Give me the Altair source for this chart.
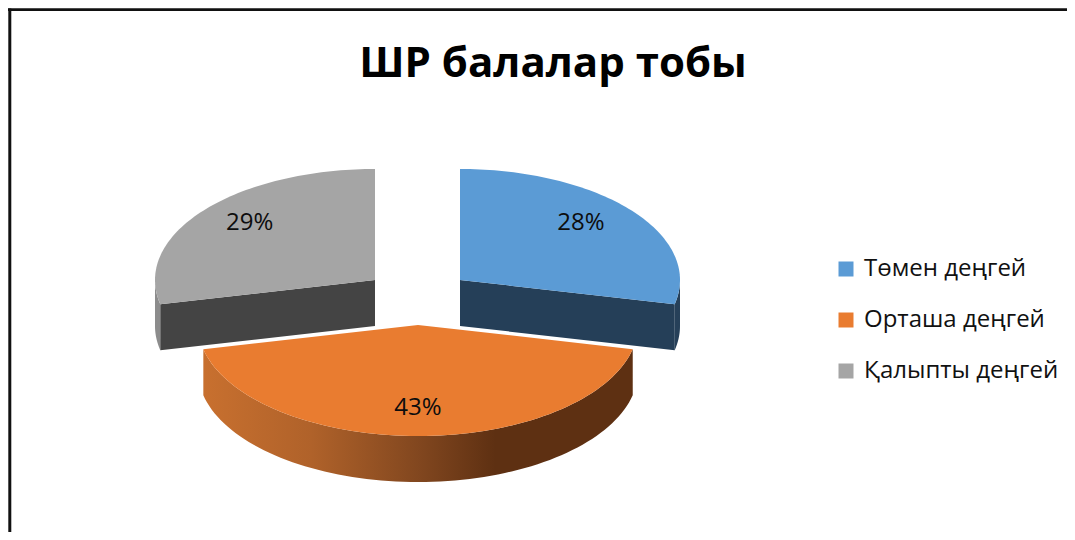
import math
import altair as alt

# ---- values
categories = ["Төмен деңгей", "Орташа деңгей", "Қалыпты деңгей"]
shares = [28.49, 43.0, 28.51]
top_colours = ["#5B9BD5", "#E97C30", "#A5A5A5"]
title_text = "ШР балалар тобы"

# ---- layout of the exploded, tilted pie (page pixels)
RX, RY, DEPTH = 220, 111, 46
centres = [(460, 280), (418, 325), (375, 280)]
label_factors = [(0.705, 0.82), (0.0, 0.745), (0.73, 0.82)]
W, H = 1059, 524


def pt(c, deg, dy=0):
    t = math.radians(deg)
    return [c[0] + RX * math.sin(t), c[1] - RY * math.cos(t) + dy]


def arc(c, a0, a1, dy=0, n=80):
    return [pt(c, a0 + (a1 - a0) * i / n, dy) for i in range(n + 1)]


def feature(ring, **props):
    return {"type": "Feature", "properties": props,
            "geometry": {"type": "Polygon", "coordinates": [ring + [ring[0]]]}}


spans = []
acc = 0.0
for s in shares:
    spans.append((acc * 3.6, (acc + s) * 3.6))
    acc += s

tops = []
labels = []
for cat, c, (a0, a1), s, (fx, fy) in zip(categories, centres, spans, shares, label_factors):
    tops.append(feature([list(c)] + arc(c, a0, a1), category=cat))
    mid = math.radians((a0 + a1) / 2)
    labels.append({"lon": c[0] + fx * RX * math.sin(mid),
                   "lat": c[1] - fy * RY * math.cos(mid),
                   "label": f"{round(s)}%"})

blue_c, orange_c, grey_c = centres
blue_span, orange_span, grey_span = spans


def inner_face(c, deg):
    p = pt(c, deg)
    return feature([list(c), p, [p[0], p[1] + DEPTH], [c[0], c[1] + DEPTH]])


def outer_wall(c, a0, a1):
    return feature(arc(c, a0, a1) + arc(c, a1, a0, DEPTH))


proj = dict(type="identity", scale=1, translate=[-8, -8])


def shape(features, fill):
    return alt.Chart(alt.Data(values=features)).mark_geoshape(
        fill=fill, strokeWidth=0).project(**proj)


walls = [
    shape([outer_wall(grey_c, grey_span[0], 270)], "#8C8C8C"),
    shape([inner_face(grey_c, grey_span[0])], "#444444"),
    shape([outer_wall(blue_c, 90, blue_span[1])], "#264059"),
    shape([inner_face(blue_c, blue_span[1])], "#253F58"),
    shape([outer_wall(orange_c, orange_span[0], orange_span[1])], {
        "gradient": "linear", "x1": 0, "y1": 0, "x2": 1, "y2": 0,
        "stops": [
            {"offset": 0.0, "color": "#C8702F"},
            {"offset": 0.25, "color": "#B0622A"},
            {"offset": 0.5, "color": "#82471F"},
            {"offset": 0.68, "color": "#5E3012"},
            {"offset": 1.0, "color": "#5E3012"},
        ]}),
]

top_layer = alt.Chart(alt.Data(values=tops)).mark_geoshape(strokeWidth=0).encode(
    color=alt.Color("properties.category:N",
                    scale=alt.Scale(domain=categories, range=top_colours),
                    legend=alt.Legend(
                        title=None, orient="none", legendX=826, legendY=249,
                        symbolType="square", symbolSize=225, symbolStrokeWidth=0,
                        labelFont="Open Sans", labelFontSize=24, labelColor="#111111",
                        labelLimit=300, labelOffset=6, rowPadding=27,
                    ))
).project(**proj)

text_layer = alt.Chart(alt.Data(values=labels)).mark_text(
    font="Open Sans", fontSize=24, color="#0D0D0D", align="center", baseline="middle"
).encode(longitude="lon:Q", latitude="lat:Q", text="label:N").project(**proj)

title_layer = alt.Chart(alt.Data(values=[{"t": title_text}])).mark_text(
    font="Open Sans", fontSize=42, fontWeight="bold", color="#000000",
    align="center", baseline="alphabetic"
).encode(text="t:N", x=alt.value(553 - 8), y=alt.value(77 - 8))

border_top = alt.Chart(alt.Data(values=[{"a": 1}])).mark_rule(color="#111111", strokeWidth=2.6).encode(
    x=alt.value(0), x2=alt.value(W), y=alt.value(1.6))
border_left = alt.Chart(alt.Data(values=[{"a": 1}])).mark_rule(color="#111111", strokeWidth=3).encode(
    x=alt.value(1.8), y=alt.value(0.4), y2=alt.value(H))

chart = alt.layer(border_top, border_left, *walls, top_layer, text_layer, title_layer).properties(
    width=W, height=H,
    background="white",
    autosize=alt.AutoSizeParams(type="none"),
    padding=0,
).configure_view(stroke=None)

chart.save("out.html", embed_options={"renderer": "svg", "actions": False})
